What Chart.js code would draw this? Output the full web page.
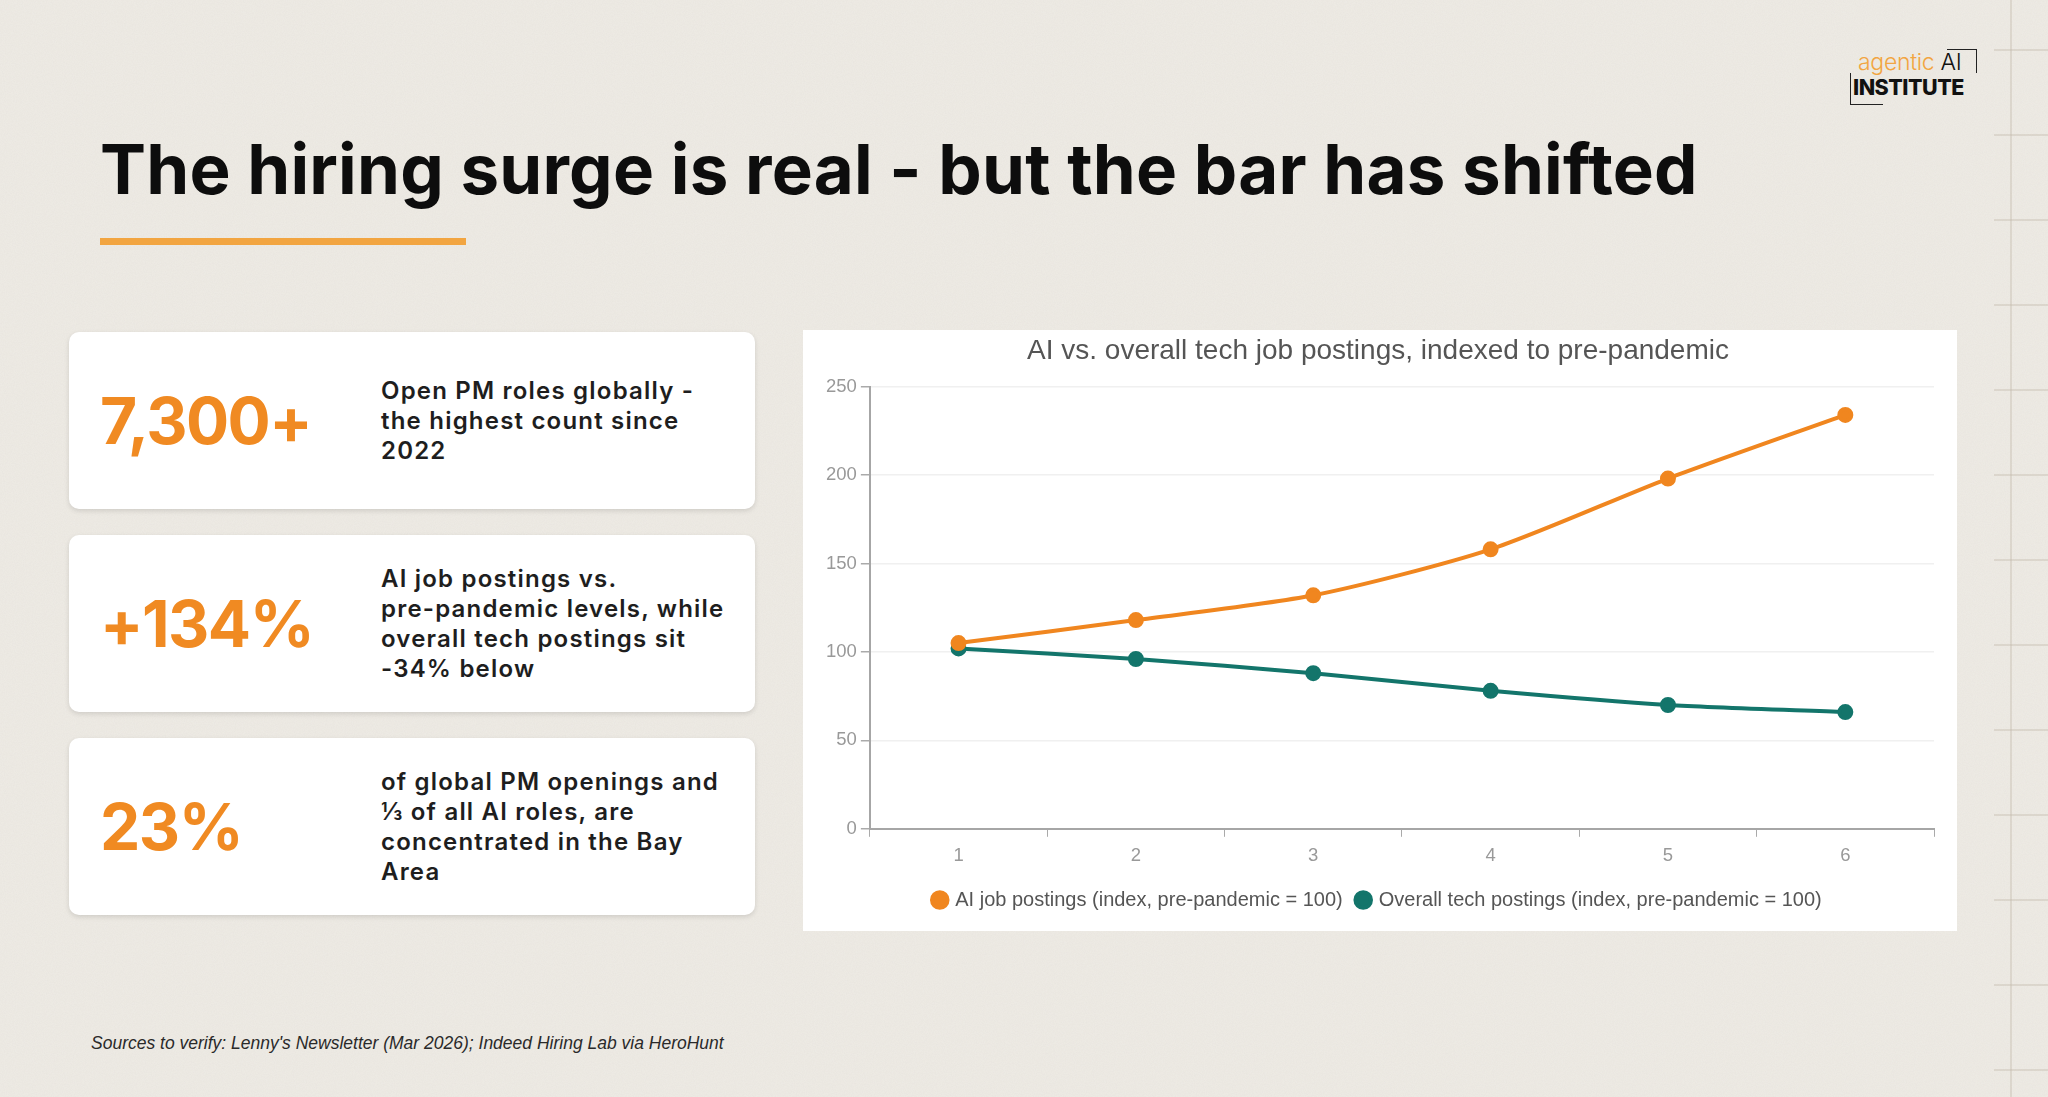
<!DOCTYPE html>
<html>
<head>
<meta charset="utf-8">
<script src="https://cdn.jsdelivr.net/npm/chart.js@4.4.1/dist/chart.umd.min.js"></script>
<style>
  html, body { margin:0; padding:0; }
  body {
    width:2048px; height:1097px; overflow:hidden; position:relative;
    background:#eeebe5;
    font-family:"Inter", "Open Sans", sans-serif;
  }
  .texture {
    position:absolute; inset:0;
    background-image:url("data:image/svg+xml;utf8,<svg xmlns='http://www.w3.org/2000/svg' width='400' height='400'><filter id='n'><feTurbulence type='fractalNoise' baseFrequency='0.9' numOctaves='3' stitchTiles='stitch'/><feColorMatrix values='0 0 0 0 0.45  0 0 0 0 0.42  0 0 0 0 0.36  0 0 0 0.09 0'/></filter><rect width='400' height='400' filter='url(%23n)'/></svg>");
  }
  .paper-grid {
    position:absolute; left:1994px; top:0; width:54px; height:1097px;
    background:
      linear-gradient(90deg, transparent 16px, rgba(195,186,172,.4) 16px, rgba(195,186,172,.4) 18px, transparent 18px),
      repeating-linear-gradient(180deg, transparent 0, transparent 49px, rgba(195,186,172,.4) 49px, rgba(195,186,172,.4) 51px, transparent 51px, transparent 85px);
  }
  h1 {
    position:absolute; left:100px; top:127px; margin:0;
    font-size:69px; font-weight:700; color:#0d0d0d; letter-spacing:0.2px;
    line-height:84px; white-space:nowrap;
  }
  .rule { position:absolute; left:100px; top:238px; width:366px; height:7px; background:#f2a541; }
  .card {
    position:absolute; left:69px; width:686px; height:177px;
    background:#fff; border-radius:10px;
    box-shadow:0 2px 5px rgba(0,0,0,.12);
  }
  .card .num {
    position:absolute; left:31px; top:0; height:100%;
    display:flex; align-items:center;
    font-size:64px; font-weight:700; color:#f08a22; letter-spacing:-1.5px;
  }
  .card .txt {
    position:absolute; left:312px; top:0; height:100%;
    display:flex; align-items:center; white-space:nowrap;
    font-size:24px; font-weight:600; color:#1e1e1e; line-height:30px; letter-spacing:1.2px;
  }
  .panel { position:absolute; left:803px; top:330px; width:1154px; height:601px; background:#fff; }
  .src {
    position:absolute; left:91px; top:1033px;
    font-family:"Liberation Sans", sans-serif; font-style:italic; font-size:17.5px; color:#2a2a2a;
  }
  .logo { position:absolute; left:1840px; top:44px; width:150px; height:70px; }
  .logo .l1 { position:absolute; left:18px; top:4px; font-size:23px; font-weight:300; color:#f2a541; white-space:nowrap; letter-spacing:-0.3px; }
  .logo .l1 span { color:#111; }
  .logo .l2 { position:absolute; left:13px; top:30px; font-size:21.5px; font-weight:800; color:#111; letter-spacing:-0.5px; }
  .logo .b1 { position:absolute; left:107px; top:5px; width:29px; height:23px; border-top:1.5px solid #222; border-right:1.5px solid #222; }
  .logo .b2 { position:absolute; left:10px; top:29px; width:32px; height:31px; border-left:1.5px solid #222; border-bottom:1.5px solid #222; }
</style>
</head>
<body>
<div class="texture"></div>
<div class="paper-grid"></div>

<div class="logo">
  <div class="b1"></div><div class="b2"></div>
  <div class="l1">agentic <span>AI</span></div>
  <div class="l2">INSTITUTE</div>
</div>

<h1>The hiring surge is real - but the bar has shifted</h1>
<div class="rule"></div>

<div class="card" style="top:332px">
  <div class="num">7,300+</div>
  <div class="txt">Open PM roles globally -<br>the highest count since<br>2022</div>
</div>
<div class="card" style="top:535px">
  <div class="num">+134%</div>
  <div class="txt">AI job postings vs.<br>pre-pandemic levels, while<br>overall tech postings sit<br>-34% below</div>
</div>
<div class="card" style="top:738px">
  <div class="num">23%</div>
  <div class="txt">of global PM openings and<br>⅓ of all AI roles, are<br>concentrated in the Bay<br>Area</div>
</div>

<div class="panel"><canvas id="chart" width="1154" height="601"></canvas></div>

<div class="src">Sources to verify: Lenny's Newsletter (Mar 2026); Indeed Hiring Lab via HeroHunt</div>

<script>
// Dados do gráfico
const periods = ['1', '2', '3', '4', '5', '6'];
const aiPostings = [105, 118, 132, 158, 198, 234];
const techPostings = [102, 96, 88, 78, 70, 66];
const yTicks = [0, 50, 100, 150, 200, 250];

const ORANGE = '#f0861f';
const TEAL = '#13756b';

const ctx = document.getElementById('chart').getContext('2d');
new Chart(ctx, {
  type: 'line',
  data: {
    labels: periods,
    datasets: [
      { label: 'AI job postings (index, pre-pandemic = 100)', data: aiPostings,
        borderColor: ORANGE, backgroundColor: ORANGE, borderWidth: 4,
        pointRadius: 6, pointHoverRadius: 6, tension: 0.25 },
      { label: 'Overall tech postings (index, pre-pandemic = 100)', data: techPostings,
        borderColor: TEAL, backgroundColor: TEAL, borderWidth: 4,
        pointRadius: 6, pointHoverRadius: 6, tension: 0.25 }
    ]
  },
  options: {
    responsive: false,
    animation: false,
    layout: { padding: { left: 19, right: 23, top: 4, bottom: 11 } },
    plugins: {
      title: { display: true, text: 'AI vs. overall tech job postings, indexed to pre-pandemic',
        color: '#555', font: { family: 'Liberation Sans', size: 28, weight: 'normal' }, padding: { top: 0, bottom: 19 } },
      legend: { position: 'bottom',
        labels: { usePointStyle: true, pointStyle: 'circle', boxWidth: 11, boxHeight: 11,
          color: '#555', padding: 15, font: { family: 'Liberation Sans', size: 20 } } },
      tooltip: { enabled: false }
    },
    scales: {
      x: {
        offset: true,
        grid: { display: true, drawOnChartArea: false, drawTicks: true, tickLength: 8, tickColor: '#aaa', offset: true },
        border: { color: '#a6a6a6', width: 2 },
        ticks: { color: '#999', padding: 8, font: { family: 'Liberation Sans', size: 18.5 } }
      },
      y: {
        min: 0, max: 250,
        afterBuildTicks: axis => { axis.ticks = yTicks.map(v => ({ value: v })); },
        grid: { color: '#f0f0f0', lineWidth: 1.5, tickLength: 9, tickColor: '#aaa' },
        border: { color: '#a6a6a6', width: 2 },
        ticks: { color: '#999', padding: 4, font: { family: 'Liberation Sans', size: 18.5 } }
      }
    }
  }
});
</script>
</body>
</html>
